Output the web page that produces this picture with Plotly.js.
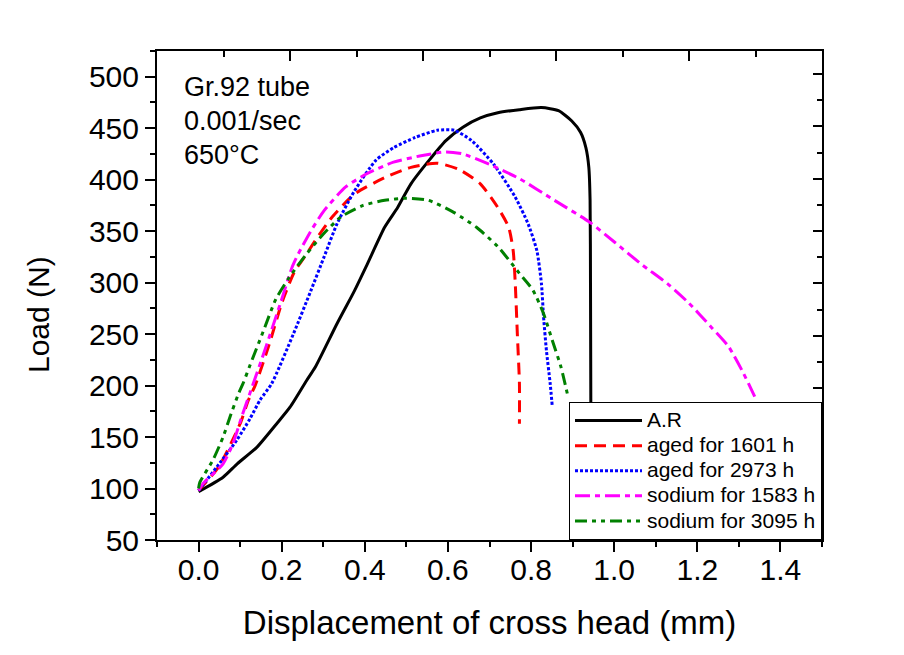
<!DOCTYPE html>
<html>
<head>
<meta charset="utf-8">
<script src="https://cdn.plot.ly/plotly-3.0.1.min.js"></script>
<style>html,body{margin:0;padding:0;background:#fff;}#chart{width:904px;height:655px;}</style>
</head>
<body>
<div id="chart"></div>
<script>
// ---- data ----
const seriesNames = ["A.R", "aged for 1601 h", "aged for 2973 h", "sodium for 1583 h", "sodium for 3095 h"];

const arX = [0, 0.059, 0.093, 0.140, 0.188, 0.220, 0.260, 0.281, 0.333, 0.375, 0.406, 0.448, 0.479, 0.511, 0.553, 0.595, 0.636, 0.678, 0.720, 0.772, 0.825, 0.866, 0.898, 0.919, 0.932, 0.939, 0.942, 0.943, 0.944];
const arY = [97, 111, 124, 140, 163, 179, 205, 218, 260, 292, 318, 354, 373, 396, 418, 438, 451, 460, 465, 468, 470, 467, 457, 446, 431, 412, 380, 299, 150];

const aged1601X = [0, 0.05, 0.100, 0.120, 0.136, 0.170, 0.200, 0.230, 0.260, 0.281, 0.322, 0.375, 0.448, 0.511, 0.574, 0.626, 0.678, 0.720, 0.746, 0.757, 0.762, 0.767, 0.772, 0.772];
const aged1601Y = [98, 122, 163, 186, 200, 240, 280, 310, 328, 341, 364, 386, 402, 412, 416, 410, 396, 373, 354, 331, 299, 250, 202, 163];

const aged2973X = [0, 0.044, 0.092, 0.124, 0.148, 0.176, 0.228, 0.270, 0.302, 0.333, 0.375, 0.427, 0.469, 0.521, 0.574, 0.615, 0.657, 0.710, 0.762, 0.793, 0.814, 0.825, 0.830, 0.837, 0.846, 0.851];
const aged2973Y = [98, 121, 147, 168, 186, 202, 250, 292, 325, 357, 389, 419, 431, 441, 448, 448, 438, 415, 383, 357, 331, 299, 267, 234, 202, 180];

const sodium1583X = [0, 0.011, 0.059, 0.083, 0.104, 0.130, 0.160, 0.197, 0.225, 0.240, 0.270, 0.302, 0.354, 0.406, 0.469, 0.532, 0.595, 0.636, 0.699, 0.772, 0.856, 0.940, 1.002, 1.065, 1.128, 1.180, 1.233, 1.275, 1.311, 1.342];
const sodium1583Y = [98, 105, 124, 144, 170, 200, 235, 280, 315, 328, 350, 370, 393, 406, 417, 423, 427, 425, 415, 401, 380, 359, 339, 318, 299, 280, 257, 238, 212, 186];

const sodium3095X = [0, 0.003, 0.035, 0.059, 0.076, 0.096, 0.108, 0.124, 0.155, 0.186, 0.218, 0.260, 0.302, 0.343, 0.396, 0.448, 0.500, 0.553, 0.615, 0.668, 0.720, 0.772, 0.804, 0.830, 0.851, 0.872, 0.889];
const sodium3095Y = [100, 106, 128, 150, 170, 192, 203, 220, 252, 284, 305, 328, 348, 364, 375, 380, 382, 380, 368, 354, 335, 309, 293, 270, 244, 218, 189];

const annotationLines = ["Gr.92 tube", "0.001/sec", "650\u00B0C"];
const xTitle = "Displacement of cross head (mm)";
const yTitle = "Load (N)";

// ---- styling ----
const FONT = "'Liberation Sans', Arial, sans-serif";
const lineStyles = [
  {color: "#000000", width: 3, dash: "solid"},
  {color: "#ff0000", width: 3, dash: "12px,7px"},
  {color: "#0000ff", width: 3, dash: "3px,2px"},
  {color: "#ff00ff", width: 3, dash: "15px,5px,5px,5px"},
  {color: "#008000", width: 3, dash: "12px,5px,4px,5px,4px,5px"}
];
const xs = [arX, aged1601X, aged2973X, sodium1583X, sodium3095X];
const ys = [arY, aged1601Y, aged2973Y, sodium1583Y, sodium3095Y];

const traces = seriesNames.map((name, i) => ({
  type: "scatter", mode: "lines",
  name: '<span style="font-size:21px">' + name + '</span>',
  x: xs[i], y: ys[i],
  line: Object.assign({shape: "spline", smoothing: 0.6}, lineStyles[i])
}));
// empty traces to attach the mirror axes (top / right)
traces.push({type: "scatter", mode: "lines", x: [], y: [], xaxis: "x2", yaxis: "y", showlegend: false, hoverinfo: "skip"});
traces.push({type: "scatter", mode: "lines", x: [], y: [], xaxis: "x", yaxis: "y2", showlegend: false, hoverinfo: "skip"});

const annots = annotationLines.map((t, i) => ({
  text: t, xref: "paper", yref: "paper", x: 0.0376, y: 0.926 - i * 0.0695,
  xanchor: "left", yanchor: "middle", showarrow: false,
  font: {size: 27, family: FONT, color: "#000"}
}));
annots.push({
  text: yTitle, xref: "paper", yref: "paper", x: -0.179, y: 0.462,
  xanchor: "center", yanchor: "middle", textangle: -90, showarrow: false,
  font: {size: 30, family: FONT, color: "#000"}
});

const layout = {
  width: 904, height: 655,
  paper_bgcolor: "#ffffff", plot_bgcolor: "#ffffff",
  margin: {l: 157, r: 82, t: 51, b: 115},
  font: {family: FONT, color: "#000000"},
  showlegend: true,
  xaxis: {
    range: [-0.1, 1.5], dtick: 0.2, tick0: 0, tickformat: ".1f",
    showgrid: false, zeroline: false,
    showline: true, linecolor: "#000", linewidth: 2,
    ticks: "outside", ticklen: 10, tickwidth: 2, tickcolor: "#000",
    minor: {dtick: 0.1, tick0: 0, ticks: "outside", ticklen: 5, tickwidth: 2, tickcolor: "#000", showgrid: false},
    tickfont: {size: 30, family: FONT}, ticklabelstandoff: -8,
    title: {text: xTitle, font: {size: 33, family: FONT}, standoff: 26},
    automargin: false
  },
  yaxis: {
    range: [50, 525], dtick: 50, tick0: 0,
    showgrid: false, zeroline: false,
    showline: true, linecolor: "#000", linewidth: 2,
    ticks: "outside", ticklen: 10, tickwidth: 2, tickcolor: "#000",
    minor: {dtick: 25, tick0: 0, ticks: "outside", ticklen: 5, tickwidth: 2, tickcolor: "#000", showgrid: false},
    tickfont: {size: 30, family: FONT},
    automargin: false
  },
  xaxis2: {
    overlaying: "x", side: "top", anchor: "y",
    range: [0, 10], dtick: 2, tick0: 0,
    showgrid: false, zeroline: false,
    showline: true, linecolor: "#000", linewidth: 2,
    ticks: "inside", ticklen: 10, tickwidth: 2, tickcolor: "#000",
    minor: {dtick: 1, ticks: "inside", ticklen: 6, tickwidth: 2, tickcolor: "#000", showgrid: false},
    showticklabels: false, fixedrange: true
  },
  yaxis2: {
    overlaying: "y", side: "right", anchor: "x",
    range: [55, 522], dtick: 50, tick0: 0,
    showgrid: false, zeroline: false,
    showline: true, linecolor: "#000", linewidth: 2,
    ticks: "inside", ticklen: 9, tickwidth: 2, tickcolor: "#000",
    minor: {dtick: 25, ticks: "inside", ticklen: 5, tickwidth: 2, tickcolor: "#000", showgrid: false},
    showticklabels: false, fixedrange: true
  },
  legend: {
    x: 1, y: 0, xref: "paper", yref: "paper", xanchor: "right", yanchor: "bottom",
    bgcolor: "#ffffff", bordercolor: "#000000", borderwidth: 1,
    font: {size: 17, family: FONT, color: "#000"},
    itemwidth: 67, tracegroupgap: 0
  },
  annotations: annots
};

Plotly.newPlot("chart", traces, layout, {displayModeBar: false, staticPlot: true});
</script>
</body>
</html>
